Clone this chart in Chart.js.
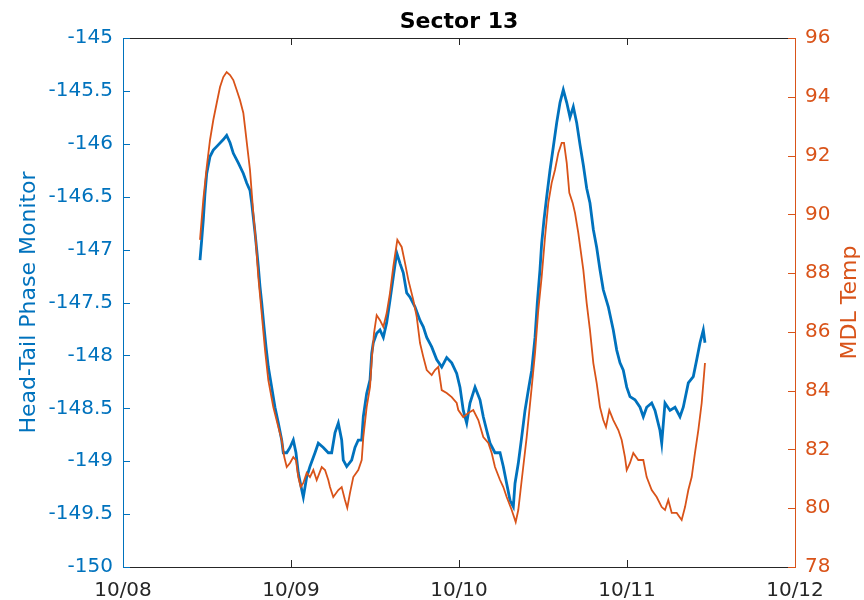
<!DOCTYPE html>
<html>
<head>
<meta charset="utf-8">
<title>Sector 13</title>
<script src="https://cdn.jsdelivr.net/npm/chart.js@4.4.1/dist/chart.umd.min.js"></script>
<style>
  html, body { margin: 0; padding: 0; background: #fff; }
  canvas { display: block; }
</style>
</head>
<body>
<canvas id="sectorChart" width="864" height="600"></canvas>
<script>
// hours since 10/08 00:00
const dayLabels = ['10/08', '10/09', '10/10', '10/11', '10/12'];

const phaseHours = [
    11.0, 11.24, 11.47, 11.71, 11.96, 12.43, 12.9, 13.61, 14.33, 14.81,
    15.29, 15.76, 16.47, 17.19, 17.67, 18.14, 18.39, 18.86, 19.1, 19.33,
    19.57, 19.81, 20.14, 20.43, 20.76, 21.24, 21.71, 22.19, 22.67, 22.9,
    23.39, 23.86, 24.33, 24.71, 25.04, 25.53, 25.76, 26.24, 26.71, 27.43,
    27.9, 28.61, 29.33, 29.81, 30.29, 30.76, 31.24, 31.47, 31.96, 32.67,
    33.14, 33.61, 34.1, 34.33, 34.81, 35.29, 35.53, 35.76, 36.24, 36.71,
    37.19, 37.67, 38.14, 38.61, 39.1, 39.57, 40.04, 40.53, 41.0, 41.71,
    42.43, 42.9, 43.39, 44.1, 44.81, 45.53, 46.24, 46.96, 47.67, 48.14,
    48.61, 49.1, 49.57, 50.29, 51.0, 51.47, 51.96, 52.43, 53.14, 53.86,
    54.33, 54.81, 55.29, 55.76, 56.0, 56.47, 56.96, 57.43, 57.9, 58.39,
    58.86, 59.19, 59.57, 59.81, 60.14, 60.53, 61.0, 61.47, 61.96, 62.43,
    62.9, 63.39, 63.86, 64.33, 64.81, 65.29, 65.76, 66.24, 66.71, 67.19,
    67.67, 68.14, 68.61, 69.33, 70.04, 70.53, 71.0, 71.47, 71.96, 72.43,
    73.14, 73.86, 74.33, 74.81, 75.53, 76.0, 76.71, 76.96, 77.43, 78.14,
    78.86, 79.57, 80.04, 80.76, 81.47, 81.96, 82.43, 82.9, 83.14
];
const phaseValues = [
    -147.10, -146.91, -146.72, -146.47, -146.28, -146.12, -146.06, -146.01, -145.96, -145.92,
    -145.99, -146.09, -146.18, -146.28, -146.37, -146.44, -146.56, -146.84, -147.00, -147.16,
    -147.35, -147.50, -147.73, -147.92, -148.11, -148.30, -148.49, -148.64, -148.80, -148.92,
    -148.92, -148.87, -148.80, -148.92, -149.11, -149.27, -149.34, -149.15, -149.05, -148.92,
    -148.83, -148.87, -148.92, -148.92, -148.73, -148.64, -148.80, -148.99, -149.05, -148.99,
    -148.87, -148.80, -148.80, -148.58, -148.36, -148.23, -147.98, -147.88, -147.79, -147.76,
    -147.83, -147.69, -147.48, -147.26, -147.03, -147.13, -147.22, -147.41, -147.45, -147.54,
    -147.67, -147.73, -147.83, -147.92, -148.04, -148.11, -148.02, -148.07, -148.17, -148.30,
    -148.52, -148.64, -148.45, -148.30, -148.42, -148.58, -148.71, -148.83, -148.92, -148.92,
    -149.05, -149.21, -149.37, -149.43, -149.21, -149.02, -148.77, -148.52, -148.33, -148.14,
    -147.83, -147.50, -147.19, -146.94, -146.72, -146.50, -146.25, -146.03, -145.80, -145.61,
    -145.49, -145.61, -145.75, -145.65, -145.80, -146.01, -146.20, -146.42, -146.56, -146.81,
    -146.98, -147.19, -147.38, -147.54, -147.76, -147.95, -148.07, -148.14, -148.30, -148.39,
    -148.42, -148.49, -148.58, -148.49, -148.45, -148.52, -148.71, -148.83, -148.45, -148.52,
    -148.49, -148.58, -148.49, -148.26, -148.20, -148.04, -147.88, -147.76, -147.88
];

const tempHours = [
    11.0, 11.47, 11.96, 12.43, 12.9, 13.39, 13.86, 14.33, 14.81, 15.29,
    15.76, 16.24, 16.71, 17.19, 17.43, 17.76, 18.14, 18.39, 18.61, 18.96,
    19.33, 19.81, 20.29, 20.76, 21.47, 22.19, 22.67, 23.04, 23.39, 23.86,
    24.33, 24.71, 25.04, 25.39, 25.76, 26.24, 26.71, 27.19, 27.67, 28.39,
    28.86, 29.33, 29.57, 30.04, 30.76, 31.24, 31.71, 32.04, 32.43, 32.9,
    33.61, 34.1, 34.33, 34.81, 35.29, 35.53, 35.86, 36.24, 36.71, 37.19,
    37.67, 38.14, 38.61, 39.19, 39.81, 40.29, 40.76, 41.47, 41.96, 42.43,
    42.9, 43.39, 44.1, 44.57, 45.04, 45.53, 46.24, 46.96, 47.67, 47.9,
    48.61, 49.33, 50.04, 50.76, 51.47, 52.19, 52.67, 53.14, 53.86, 54.33,
    54.81, 55.53, 56.1, 56.47, 56.96, 57.67, 58.39, 58.86, 59.33, 59.81,
    60.29, 60.76, 61.24, 61.71, 62.19, 62.67, 63.0, 63.39, 63.76, 64.24,
    64.57, 65.04, 65.76, 66.24, 66.71, 67.19, 67.67, 68.14, 68.61, 69.0,
    69.47, 70.04, 70.76, 71.24, 71.71, 71.96, 72.43, 72.9, 73.61, 74.33,
    74.81, 75.53, 76.24, 76.96, 77.43, 77.9, 78.39, 79.1, 79.81, 80.29,
    80.76, 81.24, 81.71, 82.19, 82.67, 83.14
];
const tempValues = [
    89.13, 90.49, 91.61, 92.53, 93.21, 93.79, 94.33, 94.67, 94.84, 94.74,
    94.57, 94.23, 93.89, 93.45, 92.97, 92.29, 91.51, 90.73, 90.05, 89.13,
    87.87, 86.64, 85.38, 84.36, 83.44, 82.76, 82.32, 81.74, 81.40, 81.54,
    81.74, 81.64, 81.06, 80.72, 80.86, 81.20, 81.06, 81.30, 80.96, 81.40,
    81.30, 80.96, 80.72, 80.38, 80.62, 80.72, 80.28, 80.01, 80.52, 81.06,
    81.30, 81.64, 82.42, 83.44, 84.13, 85.04, 85.96, 86.57, 86.40, 86.17,
    86.64, 87.32, 88.21, 89.13, 88.89, 88.34, 87.77, 87.09, 86.51, 85.62,
    85.15, 84.70, 84.53, 84.70, 84.81, 84.02, 83.92, 83.78, 83.58, 83.34,
    83.10, 83.24, 83.34, 83.00, 82.42, 82.22, 81.88, 81.40, 80.96, 80.72,
    80.38, 79.94, 79.53, 79.94, 80.96, 82.42, 84.13, 85.28, 86.75, 87.87,
    89.23, 90.39, 91.07, 91.51, 92.09, 92.43, 92.43, 91.75, 90.73, 90.39,
    90.05, 89.37, 88.11, 86.98, 86.06, 84.94, 84.26, 83.44, 83.00, 82.76,
    83.34, 83.00, 82.66, 82.32, 81.74, 81.30, 81.54, 81.88, 81.64, 81.64,
    81.06, 80.62, 80.38, 80.04, 79.94, 80.28, 79.84, 79.84, 79.60, 80.04,
    80.62, 81.06, 81.88, 82.66, 83.58, 84.94
];

const BLUE = '#0072BD';
const ORANGE = '#D95319';
const AXIS = '#262626';
const FONT = "'DejaVu Sans', sans-serif";

const toPoints = (xs, ys) => xs.map((x, i) => ({ x: x, y: ys[i] }));

// matlab-style box: inward ticks, coloured y axes, title and axis labels
const matlabAxes = {
    id: 'matlabAxes',
    afterDraw(chart) {
        const { ctx, chartArea: { left, right, top, bottom } } = chart;
        const { x, yPhase, yTemp } = chart.scales;
        const len = 7;
        ctx.save();
        ctx.lineWidth = 1;

        ctx.strokeStyle = AXIS;
        ctx.beginPath();
        ctx.moveTo(left, top + 0.5); ctx.lineTo(right, top + 0.5);
        ctx.moveTo(left, bottom + 0.5); ctx.lineTo(right, bottom + 0.5);
        x.ticks.forEach(t => {
            const px = Math.round(x.getPixelForValue(t.value)) + 0.5;
            ctx.moveTo(px, bottom); ctx.lineTo(px, bottom - len);
            ctx.moveTo(px, top); ctx.lineTo(px, top + len);
        });
        ctx.stroke();

        ctx.strokeStyle = BLUE;
        ctx.beginPath();
        ctx.moveTo(left + 0.5, top); ctx.lineTo(left + 0.5, bottom + 1);
        yPhase.ticks.forEach(t => {
            const py = Math.round(yPhase.getPixelForValue(t.value)) + 0.5;
            ctx.moveTo(left, py); ctx.lineTo(left + len, py);
        });
        ctx.stroke();

        ctx.strokeStyle = ORANGE;
        ctx.beginPath();
        ctx.moveTo(right + 0.5, top); ctx.lineTo(right + 0.5, bottom + 1);
        yTemp.ticks.forEach(t => {
            const py = Math.round(yTemp.getPixelForValue(t.value)) + 0.5;
            ctx.moveTo(right, py); ctx.lineTo(right - len, py);
        });
        ctx.stroke();

        ctx.textAlign = 'center';
        ctx.textBaseline = 'alphabetic';
        ctx.fillStyle = '#000';
        ctx.font = 'bold 22px ' + FONT;
        ctx.fillText('Sector 13', (left + right) / 2, 28);

        const midY = (top + bottom) / 2;
        ctx.font = '22px ' + FONT;
        ctx.textBaseline = 'middle';
        ctx.fillStyle = BLUE;
        ctx.save();
        ctx.translate(29, midY);
        ctx.rotate(-Math.PI / 2);
        ctx.fillText('Head-Tail Phase Monitor', 0, 0);
        ctx.restore();

        ctx.fillStyle = ORANGE;
        ctx.save();
        ctx.translate(850, midY);
        ctx.rotate(-Math.PI / 2);
        ctx.fillText('MDL Temp', 0, 0);
        ctx.restore();

        ctx.restore();
    }
};

const hiddenGrid = { display: true, drawOnChartArea: false, drawTicks: false };

new Chart(document.getElementById('sectorChart').getContext('2d'), {
    type: 'line',
    data: {
        datasets: [
            {
                label: 'MDL Temp',
                data: toPoints(tempHours, tempValues),
                yAxisID: 'yTemp',
                borderColor: ORANGE,
                borderWidth: 1.8,
                pointRadius: 0,
                tension: 0,
                order: 0
            },
            {
                label: 'Head-Tail Phase Monitor',
                data: toPoints(phaseHours, phaseValues),
                yAxisID: 'yPhase',
                borderColor: BLUE,
                borderWidth: 2.8,
                pointRadius: 0,
                tension: 0,
                order: 1
            }
        ]
    },
    options: {
        responsive: false,
        animation: false,
        devicePixelRatio: 1,
        layout: { padding: { top: 38, left: 0, right: 0, bottom: 0 } },
        plugins: {
            legend: { display: false },
            title: { display: false },
            tooltip: { enabled: false }
        },
        scales: {
            x: {
                type: 'linear',
                min: 0,
                max: 96,
                grid: hiddenGrid,
                border: { display: false },
                afterFit: s => { s.height = 33; },
                ticks: {
                    stepSize: 24,
                    maxRotation: 0,
                    padding: 12,
                    color: AXIS,
                    font: { family: FONT, size: 20 },
                    callback: v => dayLabels[Math.round(v / 24)]
                }
            },
            yPhase: {
                position: 'left',
                min: -150,
                max: -145,
                grid: hiddenGrid,
                border: { display: false },
                afterFit: s => { s.width = 123; },
                ticks: {
                    stepSize: 0.5,
                    padding: 10,
                    color: BLUE,
                    font: { family: FONT, size: 20 },
                    callback: v => String(v)
                }
            },
            yTemp: {
                position: 'right',
                min: 78,
                max: 96,
                grid: hiddenGrid,
                border: { display: false },
                afterFit: s => { s.width = 69; },
                ticks: {
                    stepSize: 2,
                    padding: 10,
                    color: ORANGE,
                    font: { family: FONT, size: 20 },
                    callback: v => String(v)
                }
            }
        }
    },
    plugins: [matlabAxes]
});
</script>
</body>
</html>
